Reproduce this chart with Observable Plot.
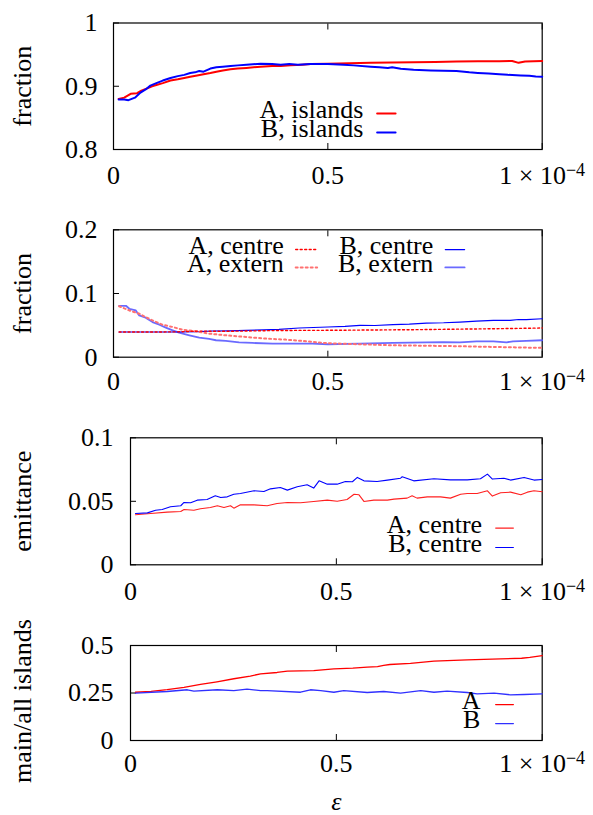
<!DOCTYPE html>
<html><head><meta charset="utf-8">
<script src="https://cdn.jsdelivr.net/npm/d3@7"></script>
<script src="https://cdn.jsdelivr.net/npm/@observablehq/plot@0.6"></script>
<style>
body{margin:0;background:#fff;}
#fig{position:relative;width:593px;height:815px;background:#fff;}
#fig svg{position:absolute;left:0;overflow:visible;font-family:"Liberation Serif",serif !important;}
#fig svg text{font-family:"Liberation Serif",serif !important;}
</style></head><body><div id="fig"></div>
<script>
// x values in units of 1e-4
const xTicks = [0, 0.5, 1];
const xTickLabels = ["0", "0.5", "1 × 10^-4"];

// Panel 1: fraction of islands
const islandsA = [[0.012,0.880],[0.025,0.882],[0.04,0.888],[0.055,0.889],[0.065,0.893],[0.08,0.897],[0.09,0.900],[0.1,0.902],[0.115,0.905],[0.133,0.909],[0.15,0.911],[0.165,0.913],[0.179,0.915],[0.195,0.917],[0.21,0.919],[0.226,0.921],[0.24,0.923],[0.255,0.925],[0.273,0.927],[0.29,0.928],[0.31,0.929],[0.343,0.931],[0.37,0.932],[0.39,0.932],[0.413,0.933],[0.44,0.934],[0.46,0.935],[0.5,0.9355],[0.55,0.9365],[0.6,0.937],[0.65,0.9375],[0.7,0.938],[0.75,0.9385],[0.8,0.939],[0.85,0.9395],[0.9,0.9395],[0.93,0.940],[0.945,0.937],[0.96,0.939],[0.98,0.9395],[1.0,0.940]];
const islandsB = [[0.012,0.879],[0.025,0.879],[0.035,0.878],[0.05,0.882],[0.063,0.890],[0.075,0.895],[0.086,0.901],[0.1,0.905],[0.115,0.909],[0.133,0.913],[0.15,0.916],[0.165,0.918],[0.179,0.921],[0.19,0.922],[0.2,0.924],[0.21,0.923],[0.226,0.928],[0.24,0.930],[0.255,0.931],[0.273,0.932],[0.29,0.933],[0.31,0.934],[0.343,0.9355],[0.37,0.935],[0.39,0.934],[0.41,0.935],[0.43,0.934],[0.46,0.935],[0.5,0.935],[0.537,0.934],[0.56,0.933],[0.6,0.931],[0.62,0.930],[0.64,0.929],[0.65,0.930],[0.67,0.9275],[0.7,0.926],[0.74,0.925],[0.77,0.9245],[0.8,0.924],[0.83,0.922],[0.85,0.921],[0.875,0.920],[0.9,0.919],[0.92,0.918],[0.95,0.917],[0.97,0.9165],[0.985,0.9155],[1.0,0.915]];

// Panel 2: fractions centre / extern
const centreA = [[0.013,0.0396],[0.1,0.0396],[0.15,0.0398],[0.2,0.041],[0.25,0.0406],[0.3,0.041],[0.35,0.0416],[0.4,0.042],[0.5,0.0422],[0.6,0.0427],[0.7,0.0432],[0.8,0.0440],[0.9,0.0448],[1.0,0.0458]];
const externA = [[0.013,0.0800],[0.037,0.0734],[0.06,0.0682],[0.075,0.063],[0.091,0.0578],[0.114,0.051],[0.138,0.0474],[0.161,0.0432],[0.192,0.0406],[0.223,0.037],[0.262,0.0344],[0.309,0.0318],[0.355,0.0292],[0.402,0.0276],[0.449,0.025],[0.5,0.0219],[0.575,0.0203],[0.652,0.0187],[0.73,0.018],[0.808,0.0172],[0.886,0.0161],[0.963,0.0151],[1.0,0.0146]];
const centreB = [[0.013,0.0396],[0.1,0.0396],[0.153,0.0396],[0.2,0.0400],[0.231,0.0411],[0.27,0.0414],[0.309,0.0422],[0.35,0.0428],[0.386,0.0437],[0.433,0.0458],[0.5,0.0474],[0.54,0.0483],[0.575,0.050],[0.61,0.0498],[0.652,0.051],[0.69,0.0518],[0.73,0.0536],[0.77,0.0541],[0.808,0.0552],[0.847,0.0567],[0.886,0.0578],[0.925,0.0578],[0.945,0.0592],[0.963,0.0589],[1.0,0.0604]];
const externB = [[0.013,0.0807],[0.029,0.0807],[0.037,0.076],[0.052,0.0734],[0.06,0.0656],[0.075,0.062],[0.091,0.0552],[0.107,0.051],[0.122,0.0464],[0.138,0.0422],[0.153,0.0385],[0.177,0.0344],[0.2,0.0307],[0.223,0.0286],[0.239,0.0266],[0.262,0.0255],[0.293,0.0234],[0.324,0.0224],[0.371,0.0214],[0.418,0.0212],[0.464,0.0212],[0.5,0.0203],[0.575,0.0214],[0.652,0.0224],[0.73,0.0234],[0.769,0.0237],[0.808,0.0234],[0.847,0.025],[0.886,0.025],[0.917,0.0234],[0.932,0.025],[0.963,0.0255],[1.0,0.0266]];

// Panel 3: emittance
const emitA = [[0.012,0.0394],[0.049,0.0404],[0.089,0.0415],[0.122,0.042],[0.13,0.0436],[0.154,0.043],[0.17,0.0441],[0.194,0.0451],[0.211,0.0465],[0.227,0.0451],[0.243,0.0465],[0.251,0.0446],[0.267,0.0472],[0.3,0.0472],[0.332,0.0465],[0.356,0.0483],[0.381,0.0491],[0.413,0.0488],[0.445,0.0499],[0.478,0.0509],[0.502,0.0501],[0.526,0.0514],[0.543,0.0556],[0.555,0.0551],[0.567,0.0499],[0.591,0.0509],[0.624,0.0509],[0.64,0.0517],[0.672,0.0525],[0.684,0.0543],[0.696,0.0525],[0.721,0.0535],[0.753,0.0535],[0.777,0.0525],[0.802,0.0556],[0.818,0.0562],[0.842,0.0562],[0.867,0.0583],[0.879,0.0541],[0.899,0.0567],[0.923,0.0572],[0.948,0.0551],[0.964,0.0572],[0.98,0.0583],[1.0,0.0575]];
const emitB = [[0.012,0.0404],[0.041,0.0409],[0.061,0.043],[0.077,0.0436],[0.097,0.0457],[0.122,0.0465],[0.13,0.0491],[0.146,0.0488],[0.162,0.0509],[0.186,0.0514],[0.206,0.0543],[0.219,0.053],[0.235,0.0535],[0.251,0.0556],[0.267,0.0562],[0.3,0.0583],[0.324,0.0577],[0.34,0.0598],[0.364,0.0609],[0.381,0.0588],[0.405,0.0614],[0.429,0.063],[0.445,0.0604],[0.458,0.0661],[0.478,0.0635],[0.502,0.0635],[0.522,0.0656],[0.539,0.0654],[0.551,0.0688],[0.567,0.0661],[0.599,0.0656],[0.624,0.0667],[0.656,0.0682],[0.66,0.0693],[0.688,0.0661],[0.737,0.0677],[0.777,0.0669],[0.818,0.0669],[0.85,0.0677],[0.867,0.0714],[0.879,0.0675],[0.907,0.0682],[0.923,0.0667],[0.956,0.0688],[0.98,0.0667],[1.0,0.0672]];

// Panel 4: main / all islands
const mainA = [[0.012,0.254],[0.05,0.259],[0.089,0.268],[0.13,0.280],[0.17,0.295],[0.21,0.309],[0.251,0.325],[0.291,0.339],[0.316,0.351],[0.356,0.358],[0.381,0.365],[0.445,0.368],[0.494,0.377],[0.54,0.381],[0.575,0.386],[0.60,0.389],[0.615,0.395],[0.63,0.400],[0.68,0.406],[0.737,0.4175],[0.818,0.4245],[0.899,0.430],[0.95,0.433],[0.97,0.437],[1.0,0.447]];
const mainB = [[0.012,0.249],[0.089,0.258],[0.138,0.267],[0.154,0.260],[0.211,0.267],[0.251,0.263],[0.283,0.270],[0.316,0.263],[0.332,0.263],[0.413,0.254],[0.437,0.267],[0.462,0.263],[0.494,0.254],[0.518,0.263],[0.575,0.2526],[0.615,0.258],[0.656,0.249],[0.705,0.263],[0.737,0.254],[0.769,0.260],[0.818,0.2526],[0.842,0.2456],[0.883,0.249],[0.923,0.2404],[0.956,0.242],[1.0,0.2456]];

const FONT = "Liberation Serif";
const FS = 26;

const S = {
  redThick: {stroke:"#ff0000", strokeWidth:2},
  blueThick: {stroke:"#0000ff", strokeWidth:2},
  redDotC: {stroke:"#ff0000", strokeWidth:1.4, strokeDasharray:"2,2.5"},
  redDotE: {stroke:"#ff7070", strokeWidth:2, strokeDasharray:"2,3"},
  blueC: {stroke:"#0000ff", strokeWidth:1.2},
  blueE: {stroke:"#5050ff", strokeWidth:1.8, strokeOpacity:0.85},
  redThin: {stroke:"#ff2020", strokeWidth:1.1},
  blueThin: {stroke:"#0000ff", strokeWidth:1.1},
  redMed: {stroke:"#ff0000", strokeWidth:1.3},
  blueMed: {stroke:"#3030ff", strokeWidth:1.3}
};

function panel(cfg){
  const xy = {x: d => d[0], y: d => d[1]};
  const tf = {fontFamily:FONT, fontSize:FS};
  const marks = [
    Plot.frame({stroke:"#000", strokeWidth:1.2}),
    Plot.axisX(xTicks, {anchor:"bottom", tickSize:6, dy:-6, tickFormat:() => "", label:null}),
    Plot.axisX(xTicks, {anchor:"top", tickSize:6, dy:6, tickFormat:() => "", label:null}),
    Plot.axisX(xTicks, {anchor:"bottom", tickSize:0, tickPadding:cfg.xPad, ...tf, tickFormat:d => xTickLabels[xTicks.indexOf(d)], label:null}),
    Plot.axisY(cfg.yTicks, {anchor:"left", tickSize:6, dx:6, tickFormat:() => "", label:null}),
    Plot.axisY(cfg.yTicks, {anchor:"left", tickSize:0, tickPadding:cfg.yPad, ...tf, tickFormat:d => cfg.yLabels[cfg.yTicks.indexOf(d)], label:null}),
    Plot.text([cfg.ylabel], {frameAnchor:"left", textAnchor:"middle", dx:22 - cfg.ml, dy:cfg.ylDy || 0, rotate:-90, lineAnchor:"middle", ...tf})
  ];
  for (const s of cfg.series) marks.push(Plot.line(s.data, {...xy, ...s.style}));
  for (const L of cfg.legend) {
    marks.push(Plot.text([L.label], {x:L.x, y:L.y, textAnchor:"end", lineAnchor:"middle", dy:-3.5, ...tf}));
    marks.push(Plot.line([[L.s1, L.y],[L.s2, L.y]], {...xy, ...L.style}));
  }
  if (cfg.extra) marks.push(...cfg.extra);
  const svg = Plot.plot({
    width:593, height:cfg.height,
    marginLeft:cfg.ml, marginRight:51.3, marginTop:cfg.mt, marginBottom:cfg.mb,
    x:{domain:[0,1], label:null},
    y:{domain:cfg.yDomain, label:null},
    style:{fontFamily:FONT, fontSize:FS + "px", color:"#000", background:"transparent"},
    marks
  });
  svg.setAttribute("font-family", FONT);
  svg.setAttribute("font-size", FS);
  svg.style.top = cfg.top + "px";
  svg.querySelectorAll("text").forEach(t => {
    if (t.textContent === "1 × 10^-4") {
      t.textContent = "1 × 10";
      const ts = document.createElementNS("http://www.w3.org/2000/svg", "tspan");
      ts.setAttribute("dy", "-0.45em");
      ts.setAttribute("font-size", "18");
      ts.textContent = "−4";
      t.appendChild(ts);
    }
  });
  document.getElementById("fig").appendChild(svg);
}

panel({top:0, height:200, ml:113, mt:22.5, mb:51, xPad:16, yPad:16,
  yDomain:[0.8,1], yTicks:[0.8,0.9,1], yLabels:["0.8","0.9","1"], ylabel:"fraction",
  series:[{data:islandsA, style:S.redThick},{data:islandsB, style:S.blueThick}],
  legend:[
    {label:"A, islands", x:0.583, y:0.857, s1:0.615, s2:0.658, style:S.redThick},
    {label:"B, islands", x:0.583, y:0.827, s1:0.615, s2:0.658, style:S.blueThick}
  ]});

panel({top:200, height:210, ml:113, mt:29.3, mb:53.3, xPad:14, yPad:16,
  yDomain:[0,0.2], yTicks:[0,0.1,0.2], yLabels:["0","0.1","0.2"], ylabel:"fraction",
  series:[{data:externB, style:S.blueE},{data:centreB, style:S.blueC},{data:externA, style:S.redDotE},{data:centreA, style:S.redDotC}],
  legend:[
    {label:"A, centre", x:0.397, y:0.169, s1:0.425, s2:0.475, style:S.redDotC},
    {label:"B, centre", x:0.746, y:0.169, s1:0.774, s2:0.819, style:S.blueC},
    {label:"A, extern", x:0.397, y:0.141, s1:0.425, s2:0.475, style:S.redDotE},
    {label:"B, extern", x:0.746, y:0.141, s1:0.774, s2:0.819, style:S.blueE}
  ]});

panel({top:410, height:200, ml:130, mt:27.3, mb:45.7, xPad:17, yPad:17,
  yDomain:[0,0.1], yTicks:[0,0.05,0.1], yLabels:["0","0.05","0.1"], ylabel:"emittance",
  series:[{data:emitA, style:S.redThin},{data:emitB, style:S.blueThin}],
  legend:[
    {label:"A, centre", x:0.854, y:0.0289, s1:0.887, s2:0.930, style:S.redThin},
    {label:"B, centre", x:0.854, y:0.0136, s1:0.887, s2:0.930, style:S.blueThin}
  ]});

panel({top:610, height:205, ml:130, mt:35, mb:75, xPad:13, yPad:17,
  yDomain:[0,0.5], yTicks:[0,0.25,0.5], yLabels:["0","0.25","0.5"], ylabel:"main/all islands", ylDy:8,
  series:[{data:mainA, style:S.redMed},{data:mainB, style:S.blueMed}],
  legend:[
    {label:"A", x:0.850, y:0.189, s1:0.887, s2:0.930, style:S.redMed},
    {label:"B", x:0.850, y:0.089, s1:0.887, s2:0.930, style:S.blueMed}
  ],
  extra:[Plot.text(["ε"], {frameAnchor:"bottom", dy:61, lineAnchor:"middle", fontStyle:"italic", fontFamily:FONT, fontSize:FS})]
});
</script>
</body></html>
